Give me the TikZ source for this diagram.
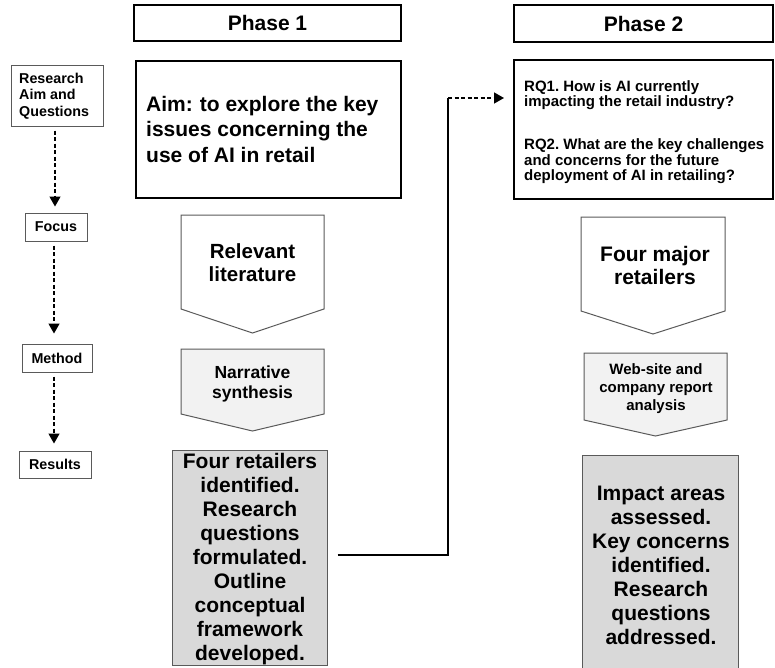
\documentclass[tikz,border=0pt]{standalone}
\usepackage{fontspec}
\setmainfont{Liberation Sans}
\usetikzlibrary{arrows.meta}
\frenchspacing
\definecolor{edgegray}{HTML}{5A5A5A}
\definecolor{resgray}{HTML}{D9D9D9}
\definecolor{lightgray2}{HTML}{F2F2F2}
\tikzset{
  thickbox/.style={draw=black, line width=2pt, fill=white, inner sep=0pt},
  phasebox/.style={thickbox, font=\bfseries\fontsize{21}{25}\selectfont},
  lblbox/.style={draw=edgegray, line width=1pt, fill=white, inner sep=0pt, font=\bfseries\fontsize{14.3}{16.7}\selectfont},
  resbox/.style={draw=edgegray, line width=1pt, fill=resgray, inner sep=0pt},
  pent/.style={draw=edgegray, line width=1pt, fill=white},
  pentg/.style={draw=edgegray, line width=1pt, fill=lightgray2},
  txt/.style={inner sep=0pt, align=center, font=\bfseries},
  dasharr/.style={dash pattern=on 4pt off 2.5pt, line width=1.3pt, -{Triangle[length=10pt,width=11pt]}},
  conn/.style={line width=1.5pt, black},
}
\begin{document}
\begin{tikzpicture}[x=1pt,y=-1pt]
\useasboundingbox (0,0) rectangle (775,667);
\clip (0,0) rectangle (775,667);
\fill[white] (0,0) rectangle (775,667);

% phase headers
\node[phasebox, minimum width=267pt, minimum height=36pt] (ph1) at (267.5,23) {Phase 1};
\node[phasebox, minimum width=259pt, minimum height=37pt] (ph2) at (643.5,23.5) {Phase 2};

% aim and RQ boxes
\node[thickbox, minimum width=265pt, minimum height=137pt] (aim) at (268.5,129.5) {};
\node[txt, anchor=west, align=left, font=\bfseries\fontsize{21}{25.5}\selectfont] (aimtxt) at (146,129) {Aim:\,\,to explore the key\\issues concerning the\\use of AI in retail};
\node[thickbox, minimum width=259pt, minimum height=139pt] (rq) at (643.5,129.5) {};
\node[txt, anchor=west, align=left, font=\bfseries\fontsize{15}{15.5}\selectfont] (rqtxt) at (524,132) {RQ1. How is AI currently\\impacting the retail industry?\\[27.5pt]RQ2. What are the key challenges\\and concerns for the future\\deployment of AI in retailing?};

% left labels
\node[lblbox, minimum width=92pt, minimum height=61pt] (ra) at (57,95.5) {};
\node[txt, anchor=west, align=left, font=\bfseries\fontsize{14.3}{16.7}\selectfont] (ratxt) at (19,96) {Research\\Aim and\\Questions};
\node[lblbox, minimum width=62pt, minimum height=28pt] (focus) at (56,227) {Focus};
\node[lblbox, minimum width=70pt, minimum height=28pt] (method) at (57,358) {Method};
\node[lblbox, minimum width=72pt, minimum height=27pt] (results) at (55,464.5) {Results};

\draw[dasharr, shorten <=4pt, shorten >=6pt] ([xshift=-2pt]ra.south) -- ([xshift=-1pt]focus.north);
\draw[dasharr, shorten <=4pt, shorten >=10pt] ([xshift=-2pt]focus.south) -- ([xshift=-3pt]method.north);
\draw[dasharr, shorten <=4pt, shorten >=7pt] ([xshift=-3pt]method.south) -- ([xshift=-1pt]results.north);

% phase 1 column
\draw[pent] (181,215) -- (324,215) -- (324,309) -- (252.5,333) -- (181,309) -- cycle;
\node[txt, font=\bfseries\fontsize{20.5}{23}\selectfont] (lit) at (252.5,263) {Relevant\\literature};
\draw[pentg] (181,349) -- (324,349) -- (324,414) -- (252.5,431) -- (181,414) -- cycle;
\node[txt, font=\bfseries\fontsize{17.5}{20.5}\selectfont] (narr) at (252.5,384) {Narrative\\synthesis};
\node[resbox, minimum width=155pt, minimum height=215pt] (res1) at (249.5,557.5) {};
\node[txt, font=\bfseries\fontsize{21}{24}\selectfont] (res1txt) at (250,559) {Four retailers\\identified.\\Research\\questions\\formulated.\\Outline\\conceptual\\framework\\developed.};

% phase 2 column
\draw[pent] (581,217) -- (725,217) -- (725,311) -- (653,334) -- (581,311) -- cycle;
\node[txt, font=\bfseries\fontsize{21}{23}\selectfont] (four) at (655,265) {Four major\\retailers};
\draw[pentg] (584,353) -- (727,353) -- (727,420) -- (655.5,436) -- (584,420) -- cycle;
\node[txt, font=\bfseries\fontsize{15}{18}\selectfont] (web) at (656,389) {Web-site and\\company report\\analysis};
\node[resbox, minimum width=156pt, minimum height=220pt] (res2) at (660,565) {};
\node[txt, font=\bfseries\fontsize{21}{24}\selectfont] (res2txt) at (661,565) {Impact areas\\assessed.\\Key concerns\\identified.\\Research\\questions\\addressed.};

% connector
\coordinate (b1) at (448,555);
\coordinate (b2) at (448,98);
\draw[conn, shorten <=10pt] (res1.east |- b1) -- (b1) -- (b2);
\draw[dasharr, line width=1.5pt, shorten >=9pt] (b2) -- (rq.west |- b2);
\end{tikzpicture}
\end{document}
